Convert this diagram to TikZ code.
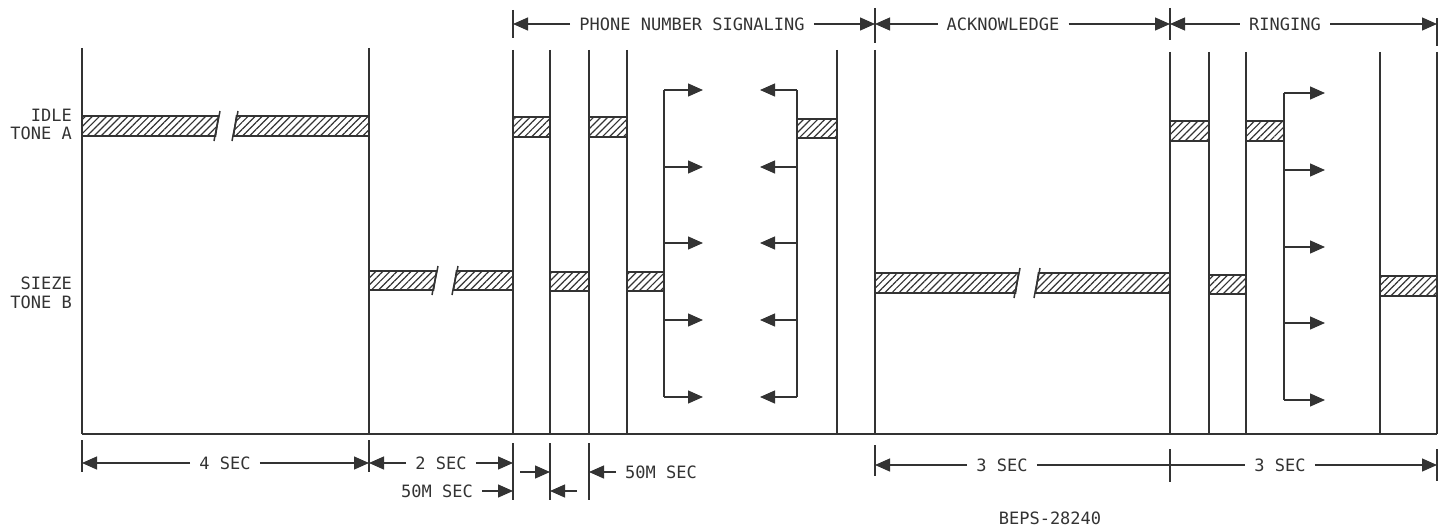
\documentclass[tikz,border=0pt]{standalone}
\usepackage{fontspec}
\setmonofont{DejaVu Sans Mono}
\usetikzlibrary{arrows.meta,patterns.meta}
\definecolor{ink}{HTML}{333333}
\newcommand\hatchbar[4]{\draw[hatch] (#1,#3) rectangle (#2,#4);}
\newcommand\hatchleft[4]{% piece ending with a break at #2
  \draw[hatch] (#1,#3) -- (#2+1.5,#3) -- (#2-1.5,#4) -- (#1,#4) -- cycle;
  \draw[brk] (#2+3,#3-5) .. controls (#2+1,#3+6) and (#2-1,#4-6) .. (#2-3,#4+5);}
\newcommand\hatchright[4]{% piece starting with a break at #1
  \draw[hatch] (#1+1.5,#3) -- (#2,#3) -- (#2,#4) -- (#1-1.5,#4) -- cycle;
  \draw[brk] (#1+3,#3-5) .. controls (#1+1,#3+6) and (#1-1,#4-6) .. (#1-3,#4+5);}
\begin{document}
\begin{tikzpicture}[x=1pt,y=-1pt,
  vline/.style={draw=ink,line width=1.3pt},
  brk/.style={draw=ink,line width=1.5pt},
  hatch/.style={draw=ink,line width=1.6pt,pattern={Lines[angle=45,distance=5pt,line width=1.2pt]},pattern color=ink},
  lbl/.style={font=\ttfamily\fontsize{17}{17}\selectfont,text=ink,inner sep=0pt},
  dlbl/.style={lbl,inner xsep=9pt},
  arr/.style={draw=ink,line width=1.3pt,-{Triangle[length=15pt,width=13pt]}},
  dim/.style={draw=ink,line width=1.3pt}]
\useasboundingbox (0,0) rectangle (1447,527);

% ---------- vertical time lines and base line ----------
\foreach \x/\t in {82/48, 369/48, 513/50, 550/50, 589/50, 627/50, 837/50, 875/50,
                   1170/52, 1209/52, 1246/52, 1380/52, 1437/52}
  \draw[vline] (\x,\t) -- (\x,434);
\draw[vline] (82,434) -- (1437,434);

% ---------- left labels ----------
\node[lbl,anchor=east] (idle)  at (72,115) {IDLE};
\node[lbl,anchor=east] (tonea) at (72,133) {TONE A};
\node[lbl,anchor=east] (sieze) at (72,283) {SIEZE};
\node[lbl,anchor=east] (toneb) at (72,302) {TONE B};

% ---------- hatched tone bars ----------
% tone A
\hatchleft{82}{217}{116}{136}
\hatchright{235}{369}{116}{136}
\hatchbar{513}{550}{117}{137}
\hatchbar{589}{627}{117}{137}
\hatchbar{797}{837}{119}{138}
\hatchbar{1170}{1209}{121}{141}
\hatchbar{1246}{1284}{121}{141}
% tone B
\hatchleft{369}{435}{271}{290}
\hatchright{455}{513}{271}{290}
\hatchbar{550}{589}{272}{291}
\hatchbar{627}{664}{272}{291}
\hatchleft{875}{1017}{273}{293}
\hatchright{1037}{1170}{273}{293}
\hatchbar{1209}{1246}{275}{294}
\hatchbar{1380}{1437}{276}{296}

% ---------- signalling pulses ----------
\coordinate (pA) at (664,90);  \coordinate (pB) at (664,397);
\coordinate (qA) at (797,90);  \coordinate (qB) at (797,397);
\coordinate (rA) at (1284,93); \coordinate (rB) at (1284,400);
\draw[vline] (pA) -- (pB);
\draw[vline] (qA) -- (qB);
\draw[vline] (rA) -- (rB);
\foreach \y [count=\i] in {90,167,243,320,397}{
  \coordinate (pl\i) at (664,\y); \coordinate (pt\i) at (703,\y);
  \coordinate (ql\i) at (797,\y); \coordinate (qt\i) at (760,\y);
  \draw[arr] (pl\i) -- (pt\i);
  \draw[arr] (ql\i) -- (qt\i);
}
\foreach \y [count=\i] in {93,170,247,323,400}{
  \coordinate (rl\i) at (1284,\y); \coordinate (rt\i) at (1325,\y);
  \draw[arr] (rl\i) -- (rt\i);
}

% ---------- header ----------
\draw[vline] (513,10) -- (513,38);
\draw[vline] (875,8) -- (875,43);
\draw[vline] (1170,8) -- (1170,40);
\draw[vline] (1437,18) -- (1437,46);
\coordinate (h1) at (513,24);
\coordinate (h2) at (875,24);
\coordinate (h3) at (1170,24);
\coordinate (h4) at (1437,24);
\node[dlbl] (phone) at (692,24) {PHONE NUMBER SIGNALING};
\node[dlbl] (ack)   at (1003,24) {ACKNOWLEDGE};
\node[dlbl] (ring)  at (1285,24) {RINGING};
\draw[arr] (phone.west) -- (h1);
\draw[arr] (phone.east) -- (h2);
\draw[arr] (ack.west) -- (h2);
\draw[arr] (ack.east) -- (h3);
\draw[arr] (ring.west) -- (h3);
\draw[arr] (ring.east) -- (h4);

% ---------- bottom dimensions ----------
\draw[vline] (82,440) -- (82,472);
\draw[vline] (369,440) -- (369,472);
\draw[vline] (513,443) -- (513,500);
\draw[vline] (550,443) -- (550,500);
\draw[vline] (589,443) -- (589,500);
\draw[vline] (875,445) -- (875,476);
\draw[vline] (1170,449) -- (1170,482);
\draw[vline] (1437,449) -- (1437,481);

\coordinate (d82)  at (82,463);
\coordinate (d369) at (369,463);
\coordinate (d513) at (513,463);
\node[dlbl] (s4) at (225,463) {4 SEC};
\node[dlbl] (s2) at (441,463) {2 SEC};
\draw[arr] (s4.west) -- (d82);
\draw[arr] (s4.east) -- (d369);
\draw[arr] (s2.west) -- (d369);
\draw[arr] (s2.east) -- (d513);

\coordinate (e513) at (513,491);
\coordinate (e550) at (550,491);
\coordinate (e577) at (577,491);
\node[dlbl] (m1) at (437,491) {50M SEC};
\draw[arr] (m1.east) -- (e513);
\draw[arr] (e577) -- (e550);

\coordinate (f520) at (520,472);
\coordinate (f550) at (550,472);
\coordinate (f589) at (589,472);
\node[dlbl,anchor=west] (m2) at (616,472) {50M SEC};
\draw[arr] (f520) -- (f550);
\draw[arr] (m2.west) -- (f589);

\coordinate (g875)  at (875,465);
\coordinate (g1170) at (1170,465);
\coordinate (g1437) at (1437,465);
\node[dlbl] (s3a) at (1002,465) {3 SEC};
\node[dlbl] (s3b) at (1280,465) {3 SEC};
\draw[arr] (s3a.west) -- (g875);
\draw[dim] (s3a.east) -- (g1170) -- (s3b.west);
\draw[arr] (s3b.east) -- (g1437);

\node[lbl] (code) at (1050,518) {BEPS-28240};
\end{tikzpicture}
\end{document}
